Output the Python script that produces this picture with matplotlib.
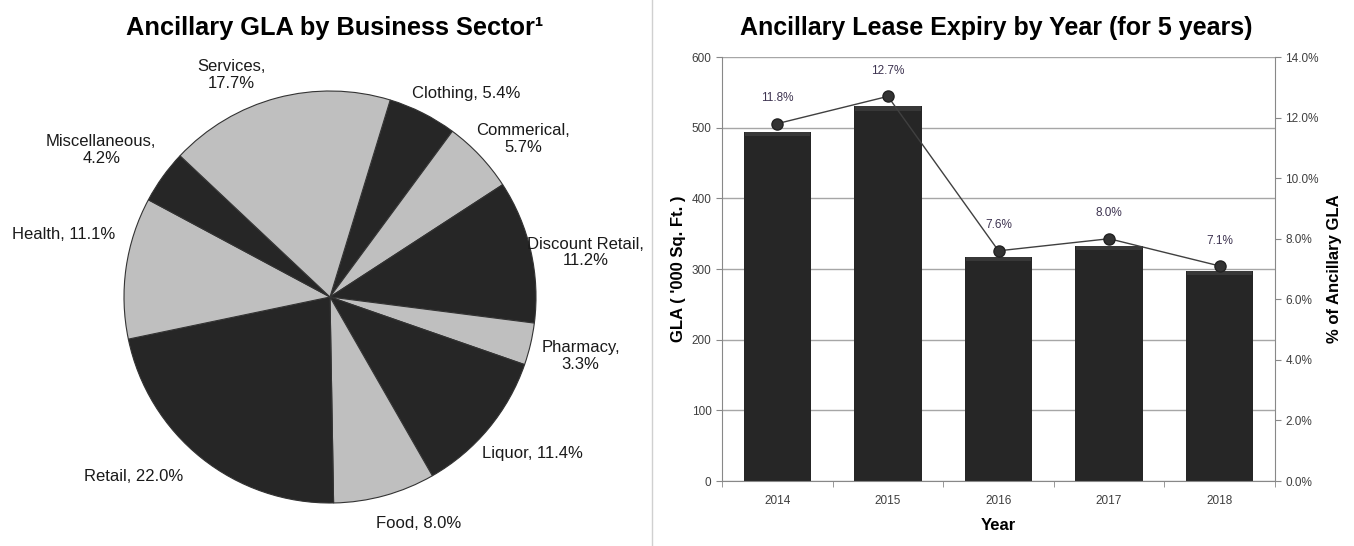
import numpy as np
import matplotlib.pyplot as plt
from matplotlib.lines import Line2D

plt.rcParams['font.family'] = ['Liberation Sans', 'DejaVu Sans']

# Pie data: business sectors, clockwise from Clothing
sectors = ['Clothing', 'Commerical', 'Discount Retail', 'Pharmacy', 'Liquor',
           'Food', 'Retail', 'Health', 'Miscellaneous', 'Services']
sector_pct = [5.4, 5.7, 11.2, 3.3, 11.4, 8.0, 22.0, 11.1, 4.2, 17.7]

# Lease expiry data
years = ['2014', '2015', '2016', '2017', '2018']
gla_sqft = [494, 530, 317, 333, 297]
pct_gla = [11.8, 12.7, 7.6, 8.0, 7.1]

DARK = '#262626'
LIGHT = '#bfbfbf'
TXT = '#3f3f3f'

fig = plt.figure(figsize=(13.54, 5.46), dpi=100)

# ---- pie ----
axp = fig.add_axes([124 / 1354, 1 - 503 / 546, 412 / 1354, 412 / 546])
colors = [DARK if i % 2 == 0 else LIGHT for i in range(len(sectors))]
wedges, _ = axp.pie(sector_pct, colors=colors, startangle=73, counterclock=False,
                    wedgeprops=dict(edgecolor='#333333', linewidth=0.8))
axp.set_xlim(-1, 1)
axp.set_ylim(-1, 1)
axp.set_aspect('equal')

# label text, nudge angle (deg) and radial distance for each slice
label_text = ['Clothing, 5.4%', 'Commerical,\n5.7%', 'Discount Retail,\n11.2%',
              'Pharmacy,\n3.3%', 'Liquor, 11.4%', 'Food, 8.0%', 'Retail, 22.0%',
              'Health, 11.1%', 'Miscellaneous,\n4.2%', 'Services,\n17.7%']
nudge = [7, 4, 3, 0, -2, -6, 9, 5, -3, -9]
dist = [1.19, 1.21, 1.26, 1.25, 1.24, 1.18, 1.29, 1.33, 1.32, 1.18]
for w, txt, dn, r in zip(wedges, label_text, nudge, dist):
    th = np.deg2rad((w.theta1 + w.theta2) / 2 - dn)
    axp.text(r * np.cos(th), r * np.sin(th), txt, ha='center', va='center',
             multialignment='center', fontsize=12, color='#1a1a1a', linespacing=1.15)

fig.text(335 / 1354, 1 - 28 / 546, 'Ancillary GLA by Business Sector\u00b9',
         ha='center', va='center', fontsize=18.3, fontweight='bold')

# divider between the two panels
fig.add_artist(Line2D([652 / 1354, 652 / 1354], [0, 1], color='#d0d0d0', lw=1))

# ---- bars + line ----
ax = fig.add_axes([722 / 1354, 1 - 481 / 546, 553 / 1354, 424 / 546])
x = np.arange(len(years))
ax.bar(x, gla_sqft, width=0.61, color=DARK, zorder=2)
# soft bevel along the bar tops
ax.bar(x, [6] * len(x), bottom=np.array(gla_sqft) - 6, width=0.59,
       color='#383838', zorder=2)
ax.set_xlim(-0.5, len(years) - 0.5)
ax.set_ylim(0, 600)
ax.set_yticks(range(0, 601, 100))
ax.yaxis.grid(True, color='#a6a6a6', lw=1)
ax.set_axisbelow(True)
ax.set_xticks(x)
ax.set_xticklabels(years)
ax.set_xticks(np.arange(-0.5, len(years)), minor=True)
ax.tick_params(axis='x', which='major', length=0, pad=10, labelsize=8.5, labelcolor=TXT)
ax.tick_params(axis='x', which='minor', length=4, color='#888888')
ax.tick_params(axis='y', length=4, color='#888888', labelsize=8.5, labelcolor=TXT)
for s in ['left', 'bottom']:
    ax.spines[s].set_color('#888888')
ax.spines['top'].set_visible(False)
ax.spines['right'].set_visible(False)
ax.set_ylabel("GLA ( '000 Sq. Ft. )", fontsize=12, fontweight='bold', labelpad=4)
ax.set_xlabel('Year', fontsize=12, fontweight='bold', labelpad=8)

ax2 = ax.twinx()
ax2.plot(x, pct_gla, color='#404040', lw=1, marker='o', markersize=8,
         markerfacecolor='#333333', markeredgecolor='#222222', zorder=3)
for xi, p in zip(x, pct_gla):
    ax2.annotate(f'{p:.1f}%', (xi, p), xytext=(0, 14), textcoords='offset points',
                 ha='center', va='bottom', fontsize=8.5, color='#3d3350')
ax2.set_ylim(0, 14)
ax2.set_yticks(np.arange(0, 14.1, 2))
ax2.set_yticklabels([f'{v:.1f}%' for v in np.arange(0, 14.1, 2)])
ax2.tick_params(axis='y', length=4, color='#888888', labelsize=8.5, labelcolor=TXT)
for s in ['left', 'top', 'bottom']:
    ax2.spines[s].set_visible(False)
ax2.spines['right'].set_color('#888888')
ax2.set_ylabel('% of Ancillary GLA', fontsize=12, fontweight='bold', labelpad=6)

fig.text(996 / 1354, 1 - 28 / 546, 'Ancillary Lease Expiry by Year (for 5 years)',
         ha='center', va='center', fontsize=18, fontweight='bold')

fig.savefig('out.png', dpi=100)
